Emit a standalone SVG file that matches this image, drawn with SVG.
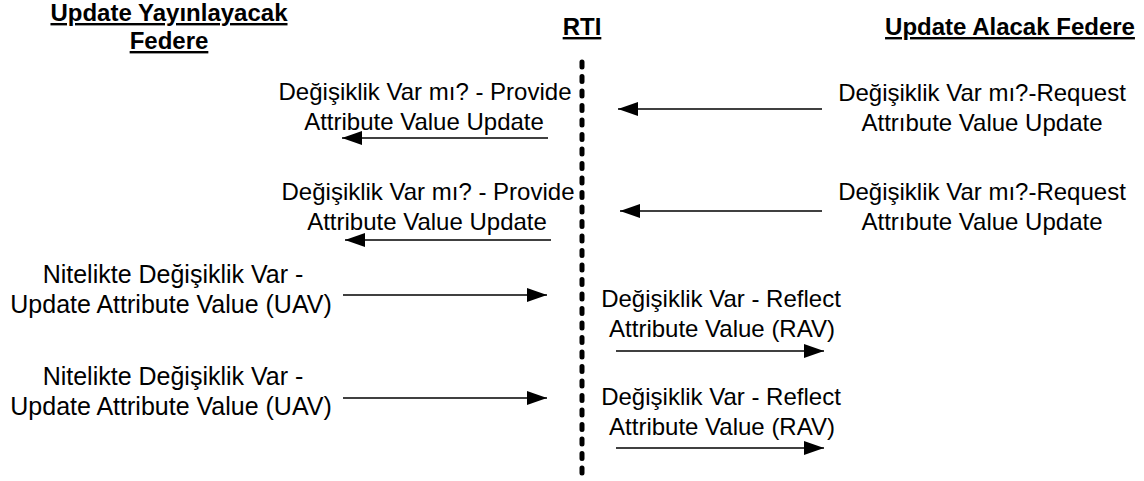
<svg xmlns="http://www.w3.org/2000/svg" width="1144" height="481" viewBox="0 0 1144 481">
  <style>
    text { font-family: "Liberation Sans", Arial, sans-serif; fill: #000; }
    .head { font-size: 24px; font-weight: bold; text-decoration: underline; text-anchor: middle; }
    .msg { font-size: 24px; text-anchor: middle; }
    .msg-wide { font-size: 25px; text-anchor: middle; }
    .arrow { stroke: #000; stroke-width: 1.5; fill: none; marker-end: url(#tip); }
    .lifeline { stroke: #000; stroke-width: 5; stroke-linecap: round; stroke-dasharray: 5 9.5; fill: none; }
  </style>
  <defs>
    <marker id="tip" markerUnits="userSpaceOnUse" markerWidth="20" markerHeight="14" refX="20" refY="7" orient="auto">
      <path d="M0,0 L20,7 L0,14 z" fill="#000"/>
    </marker>
  </defs>
  <rect width="1144" height="481" fill="#fff"/>

  <!-- column headings -->
  <g id="publisher-heading">
    <text class="head" x="169" y="21">Update Yayınlayacak</text>
    <text class="head" x="169" y="49">Federe</text>
  </g>
  <g id="rti-heading">
    <text class="head" x="582" y="35">RTI</text>
  </g>
  <g id="subscriber-heading">
    <text class="head" x="1010" y="35">Update Alacak Federe</text>
  </g>

  <!-- RTI lifeline -->
  <g id="rti-lifeline">
    <line class="lifeline" x1="582" y1="62" x2="582" y2="478"/>
  </g>

  <!-- message labels -->
  <g id="provide-1">
    <text class="msg" x="425" y="100">Değişiklik Var mı? - Provide</text>
    <text class="msg" x="424" y="130">Attribute Value Update</text>
  </g>
  <g id="provide-2">
    <text class="msg" x="428" y="200">Değişiklik Var mı? - Provide</text>
    <text class="msg" x="427" y="230">Attribute Value Update</text>
  </g>
  <g id="request-1">
    <text class="msg" x="982" y="101">Değişiklik Var mı?-Request</text>
    <text class="msg" x="982" y="131">Attrıbute Value Update</text>
  </g>
  <g id="request-2">
    <text class="msg" x="982" y="200">Değişiklik Var mı?-Request</text>
    <text class="msg" x="982" y="230">Attrıbute Value Update</text>
  </g>
  <g id="update-1">
    <text class="msg-wide" x="173" y="283">Nitelikte Değişiklik Var -</text>
    <text class="msg-wide" x="171" y="313">Update Attribute Value (UAV)</text>
  </g>
  <g id="update-2">
    <text class="msg-wide" x="173" y="385">Nitelikte Değişiklik Var -</text>
    <text class="msg-wide" x="171" y="415">Update Attribute Value (UAV)</text>
  </g>
  <g id="reflect-1">
    <text class="msg" x="721" y="307">Değişiklik Var - Reflect</text>
    <text class="msg" x="722" y="337">Attribute Value (RAV)</text>
  </g>
  <g id="reflect-2">
    <text class="msg" x="721" y="405">Değişiklik Var - Reflect</text>
    <text class="msg" x="722" y="435">Attribute Value (RAV)</text>
  </g>

  <!-- connectors -->
  <g id="connectors">
    <line class="arrow" x1="822" y1="109" x2="618" y2="109"/>
    <line class="arrow" x1="822" y1="211" x2="620" y2="211"/>
    <line class="arrow" x1="548" y1="138" x2="342" y2="138"/>
    <line class="arrow" x1="551" y1="240" x2="345" y2="240"/>
    <line class="arrow" x1="343" y1="295" x2="547" y2="295"/>
    <line class="arrow" x1="343" y1="398" x2="547" y2="398"/>
    <line class="arrow" x1="616" y1="351" x2="824" y2="351"/>
    <line class="arrow" x1="616" y1="448" x2="824" y2="448"/>
  </g>
</svg>
